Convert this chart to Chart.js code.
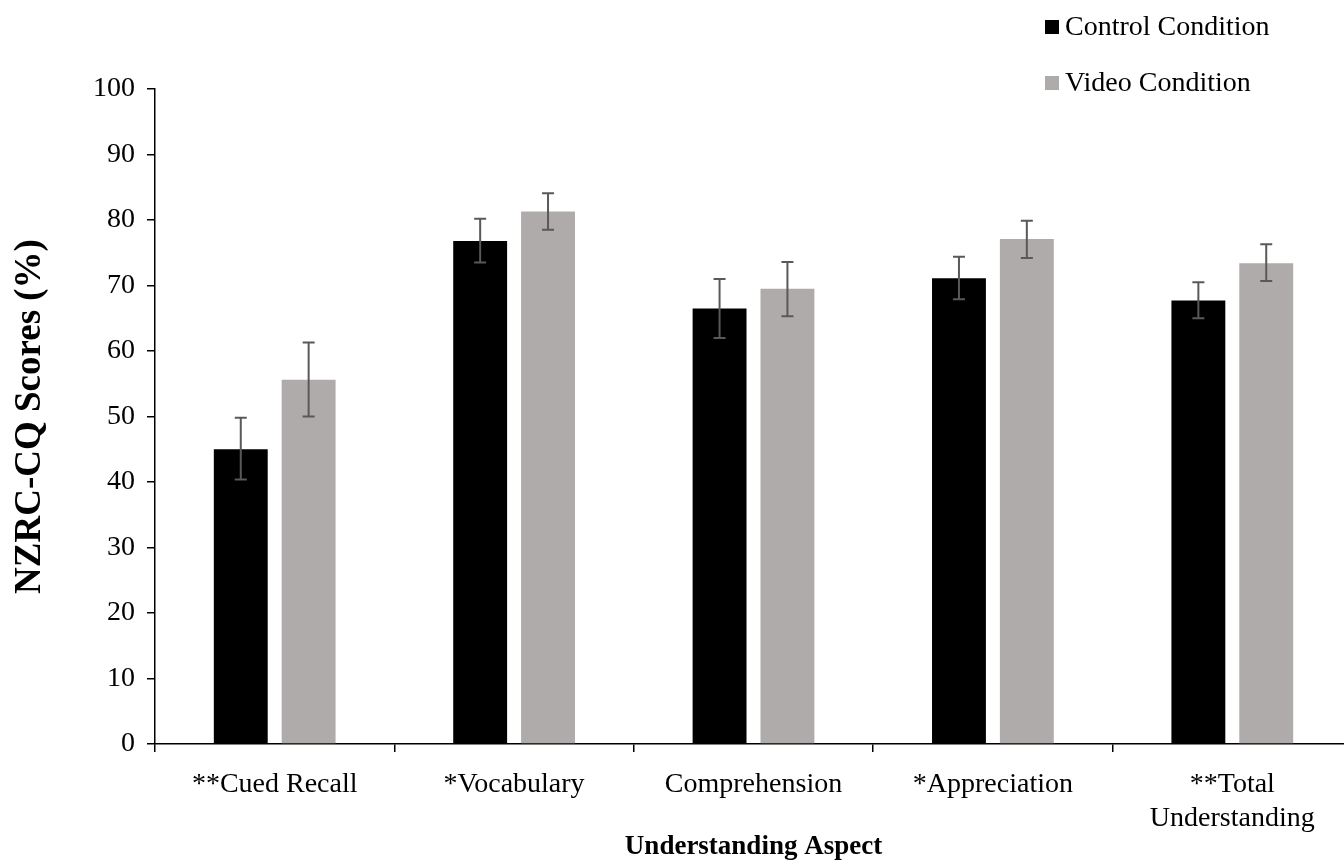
<!DOCTYPE html>
<html>
<head>
<meta charset="utf-8">
<script src="https://cdn.jsdelivr.net/npm/chart.js@4.4.1/dist/chart.umd.min.js"></script>
<style>
    html, body { margin: 0; padding: 0; background: #fff; overflow: hidden; }
    #wrap { position: relative; width: 1362px; height: 863px; }
</style>
</head>
<body>
<div id="wrap"><canvas id="scoreChart"></canvas></div>
<script>
const categories = ['**Cued Recall', '*Vocabulary', 'Comprehension', '*Appreciation', ['**Total', 'Understanding']];
const seriesNames = ['Control Condition', 'Video Condition'];

const controlScores = [45.0, 76.8, 66.5, 71.1, 67.7];
const controlLow = [40.4, 73.5, 62.0, 67.9, 65.0];
const controlHigh = [49.8, 80.2, 71.0, 74.4, 70.5];

const videoScores = [55.6, 81.3, 69.5, 77.1, 73.4];
const videoLow = [50.0, 78.5, 65.3, 74.2, 70.7];
const videoHigh = [61.3, 84.1, 73.6, 79.9, 76.3];

const yTicks = [0, 10, 20, 30, 40, 50, 60, 70, 80, 90, 100];

const FONT = "'Liberation Serif', 'Times New Roman', serif";

// error bars drawn through the y scale
const errorBars = {
    id: 'errorBars',
    afterDatasetsDraw(chart) {
        const ctx = chart.ctx;
        const y = chart.scales.y;
        ctx.save();
        ctx.strokeStyle = '#595959';
        ctx.lineWidth = 2;
        chart.data.datasets.forEach((ds, di) => {
            const meta = chart.getDatasetMeta(di);
            meta.data.forEach((bar, i) => {
                const top = y.getPixelForValue(ds.errHigh[i]);
                const bot = y.getPixelForValue(ds.errLow[i]);
                ctx.beginPath();
                ctx.moveTo(bar.x, top); ctx.lineTo(bar.x, bot);
                ctx.moveTo(bar.x - 6, top); ctx.lineTo(bar.x + 6, top);
                ctx.moveTo(bar.x - 6, bot); ctx.lineTo(bar.x + 6, bot);
                ctx.stroke();
            });
        });
        ctx.restore();
    }
};

// legend stacked in the top right corner
const cornerLegend = {
    id: 'cornerLegend',
    afterDraw(chart) {
        const ctx = chart.ctx;
        ctx.save();
        ctx.font = '28px ' + FONT;
        ctx.textBaseline = 'middle';
        chart.data.datasets.forEach((ds, i) => {
            const cy = 27 + i * 56;
            ctx.fillStyle = ds.backgroundColor;
            ctx.fillRect(1045, cy - 7, 14, 14);
            ctx.fillStyle = '#000';
            ctx.fillText(ds.label, 1065, cy + 1);
        });
        ctx.restore();
    }
};

new Chart(document.getElementById('scoreChart'), {
    type: 'bar',
    data: {
        labels: categories,
        datasets: [
            {
                label: seriesNames[0],
                data: controlScores,
                errLow: controlLow,
                errHigh: controlHigh,
                backgroundColor: '#000000',
                categoryPercentage: 0.567,
                barPercentage: 0.794
            },
            {
                label: seriesNames[1],
                data: videoScores,
                errLow: videoLow,
                errHigh: videoHigh,
                backgroundColor: '#afabab',
                categoryPercentage: 0.567,
                barPercentage: 0.794
            }
        ]
    },
    options: {
        responsive: true,
        maintainAspectRatio: false,
        animation: false,
        layout: { padding: { top: 89, right: 10, left: 0, bottom: 0 } },
        plugins: {
            legend: { display: false },
            tooltip: { enabled: false }
        },
        scales: {
            x: {
                afterFit: (s) => { s.height = 119; },
                border: { display: true, color: '#000', width: 1.5 },
                grid: { display: true, offset: true, drawOnChartArea: false, drawTicks: true, tickLength: 8, color: '#000', lineWidth: 1.5 },
                ticks: { color: '#000', font: { family: FONT, size: 28, lineHeight: 1.2 }, padding: 16, maxRotation: 0, autoSkip: false },
                title: { display: true, text: 'Understanding Aspect', color: '#000', font: { family: FONT, size: 27, weight: 'bold' }, padding: { top: 0, bottom: 0 } }
            },
            y: {
                min: 0,
                max: 100,
                afterFit: (s) => { s.width = 155; },
                afterBuildTicks: (s) => { s.ticks = yTicks.map(v => ({ value: v })); },
                border: { display: true, color: '#000', width: 1.5 },
                grid: { display: true, drawOnChartArea: false, drawTicks: true, tickLength: 8, color: '#000', lineWidth: 1.5 },
                ticks: { color: '#000', font: { family: FONT, size: 28 }, padding: 12 },
                title: { display: true, text: 'NZRC-CQ Scores (%)', color: '#000', font: { family: FONT, size: 37, weight: 'bold' }, padding: { top: 8, bottom: 0 } }
            }
        }
    },
    plugins: [errorBars, cornerLegend]
});
</script>
</body>
</html>
